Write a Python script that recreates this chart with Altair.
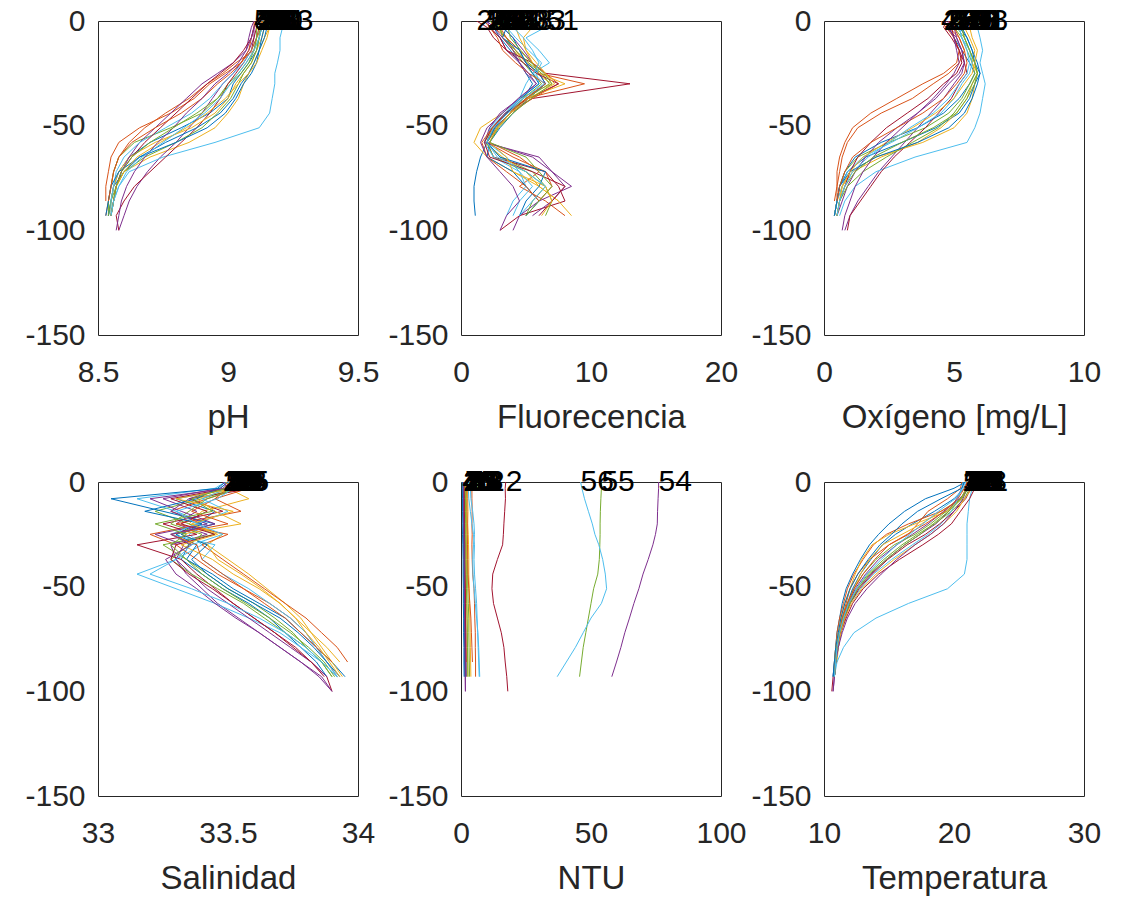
import altair as alt
import pandas as pd

# ---------------- data ----------------
DEPTH = [0, -3, -8, -14, -20, -25, -30, -37, -44, -51, -58, -65, -72, -79, -86, -93, -100]
IDS = [7, 12, 18, 23, 29, 33, 2, 40, 45, 51, 54, 55, 56, 4, 10, 15, 21, 26, 37, 48]
MATLAB = ["#0072BD", "#D95319", "#EDB120", "#7E2F8E", "#77AC30", "#4DBEEE", "#A2142F"]

PH = [
    [9.14, 9.13, 9.12, 9.11, 9.08, 9.05, 9.02, 9.00, 8.93, 8.82, 8.70, 8.62, 8.58, 8.56, 8.55, 8.54],
    [9.12, 9.13, 9.11, 9.10, 9.03, 8.98, 8.92, 8.85, 8.76, 8.68, 8.62, 8.58, 8.56, 8.55, 8.54, 8.53],
    [9.15, 9.16, 9.14, 9.12, 9.10, 9.08, 9.06, 9.04, 9.00, 8.95, 8.85, 8.70, 8.60, 8.57, 8.56],
    [9.11, 9.10, 9.10, 9.08, 9.05, 9.02, 8.98, 8.94, 8.90, 8.85, 8.80, 8.74, 8.69, 8.65, 8.62, 8.60, 8.58],
    [9.13, 9.12, 9.12, 9.10, 9.07, 9.04, 9.00, 8.96, 8.90, 8.78, 8.64, 8.58, 8.56, 8.55, 8.54, 8.54],
    [9.20, 9.21, 9.20, 9.20, 9.19, 9.18, 9.18, 9.17, 9.16, 9.12, 8.95, 8.75, 8.62, 8.58, 8.56, 8.55],
    [9.12, 9.11, 9.10, 9.09, 9.06, 9.03, 9.00, 8.97, 8.93, 8.88, 8.82, 8.76, 8.70, 8.64, 8.60, 8.57, 8.58],
    [9.16, 9.15, 9.14, 9.12, 9.10, 9.08, 9.05, 9.02, 8.97, 8.88, 8.76, 8.66, 8.60, 8.56, 8.55, 8.54],
    [9.10, 9.10, 9.09, 9.08, 9.05, 8.99, 8.93, 8.87, 8.78, 8.66, 8.58, 8.55, 8.54, 8.53, 8.53],
    [9.13, 9.14, 9.13, 9.11, 9.09, 9.06, 9.03, 9.00, 8.95, 8.86, 8.72, 8.62, 8.58, 8.56, 8.55, 8.55],
    [9.10, 9.09, 9.08, 9.07, 9.02, 8.96, 8.90, 8.84, 8.78, 8.72, 8.66, 8.62, 8.59, 8.57, 8.56, 8.55],
    [9.14, 9.13, 9.12, 9.11, 9.09, 9.06, 9.04, 9.01, 8.96, 8.90, 8.80, 8.68, 8.60, 8.57, 8.55, 8.54],
    [9.12, 9.12, 9.11, 9.09, 9.06, 9.02, 8.98, 8.93, 8.86, 8.76, 8.66, 8.60, 8.57, 8.56, 8.55, 8.55],
    [9.11, 9.10, 9.09, 9.06, 9.02, 8.97, 8.92, 8.86, 8.80, 8.74, 8.68, 8.63, 8.59, 8.57, 8.56, 8.55],
    [9.15, 9.14, 9.13, 9.12, 9.11, 9.09, 9.06, 9.03, 8.99, 8.92, 8.80, 8.66, 8.58, 8.55, 8.54, 8.53],
    [9.13, 9.12, 9.11, 9.09, 9.05, 9.01, 8.96, 8.90, 8.82, 8.72, 8.63, 8.58, 8.56, 8.55, 8.54],
    [9.17, 9.16, 9.15, 9.13, 9.11, 9.08, 9.04, 8.99, 8.92, 8.84, 8.74, 8.65, 8.60, 8.57, 8.56, 8.55],
    [9.11, 9.10, 9.09, 9.07, 9.04, 9.00, 8.95, 8.90, 8.84, 8.79, 8.73, 8.68, 8.64, 8.61, 8.59, 8.58, 8.57],
    [9.12, 9.11, 9.11, 9.10, 9.08, 9.05, 9.01, 8.96, 8.88, 8.79, 8.70, 8.63, 8.59, 8.57, 8.56, 8.55],
    [9.14, 9.13, 9.12, 9.10, 9.07, 9.04, 9.01, 8.97, 8.91, 8.83, 8.75, 8.67, 8.61, 8.58, 8.56, 8.55],
]

FLUO = [
    [2.0, 2.5, 3.0, 3.8, 4.5, 5.0, 5.5, 4.8, 3.5, 2.5, 2.0, 1.5, 1.2, 1.0, 1.0, 1.1],
    [3.0, 2.5, 3.5, 4.2, 5.0, 6.0, 9.5, 5.0, 3.8, 2.8, 2.2, 4.5, 6.0, 4.5, 6.5, 8.0],
    [2.5, 3.0, 3.2, 4.0, 5.2, 5.8, 7.0, 4.5, 3.2, 1.5, 1.0, 2.0, 4.0, 6.0, 7.5],
    [3.5, 3.2, 4.0, 4.8, 5.5, 6.0, 6.5, 5.0, 3.8, 2.6, 2.0, 5.5, 7.0, 8.5, 6.0, 4.5, 4.0],
    [2.2, 2.8, 3.5, 4.0, 4.8, 5.5, 6.2, 4.8, 3.6, 2.4, 2.0, 3.0, 5.5, 6.5, 5.5, 5.0],
    [5.5, 6.5, 5.0, 6.0, 6.8, 5.5, 5.0, 4.5, 3.2, 2.2, 2.0, 3.5, 4.5, 5.0, 4.0, 3.5],
    [1.2, 2.0, 2.5, 3.5, 5.5, 6.5, 13.0, 5.5, 3.5, 2.5, 2.0, 2.5, 6.5, 7.5, 8.0, 4.5, 3.0],
    [2.8, 3.2, 4.0, 4.5, 5.0, 6.0, 6.5, 5.2, 4.0, 3.0, 2.2, 2.0, 4.0, 5.0, 6.0, 5.0],
    [3.2, 3.0, 3.5, 4.5, 5.5, 6.5, 7.5, 5.5, 3.8, 2.8, 2.0, 4.0, 6.5, 7.0, 6.0],
    [6.5, 5.5, 4.8, 5.0, 5.5, 6.0, 8.0, 5.0, 3.6, 2.5, 1.8, 3.2, 5.0, 6.0, 7.5, 8.5],
    [2.0, 2.2, 3.0, 3.5, 4.5, 5.0, 5.8, 4.5, 3.0, 2.2, 1.8, 6.0, 7.0, 8.0, 7.0, 5.5],
    [2.5, 3.0, 3.2, 4.2, 5.2, 6.2, 6.8, 5.0, 3.8, 2.7, 2.0, 2.5, 5.0, 6.5, 7.0, 6.5],
    [3.0, 3.5, 4.2, 5.2, 6.2, 5.8, 6.0, 4.5, 3.4, 2.3, 1.8, 2.5, 4.5, 5.5, 4.5, 4.0],
    [2.5, 2.2, 3.0, 3.5, 4.8, 5.8, 7.5, 5.2, 3.4, 2.4, 1.8, 2.2, 5.5, 8.0, 7.0, 6.0],
    [4.0, 3.5, 3.2, 4.5, 5.0, 5.5, 6.0, 4.6, 3.5, 2.6, 2.0, 3.0, 6.5, 6.0, 5.0, 4.5],
    [1.8, 2.2, 2.8, 3.2, 4.2, 5.2, 6.5, 5.0, 3.6, 2.4, 1.6, 2.0, 3.5, 5.0, 6.0],
    [3.8, 4.2, 4.5, 5.0, 5.8, 6.5, 7.2, 5.2, 3.8, 2.8, 2.2, 3.5, 4.0, 6.5, 7.0, 6.2],
    [2.0, 2.5, 3.2, 4.0, 4.5, 5.2, 5.8, 4.4, 3.2, 2.0, 1.5, 2.0, 3.0, 4.0, 4.5, 3.5, 3.0],
    [3.2, 3.6, 3.8, 4.6, 5.4, 6.4, 7.0, 5.4, 4.0, 2.9, 2.2, 5.0, 6.0, 7.0, 6.0, 5.0],
    [4.5, 4.0, 4.8, 5.5, 6.0, 5.6, 6.4, 4.8, 3.6, 2.5, 2.0, 2.8, 5.0, 6.5, 5.5, 4.5],
]

OXY = [
    [5.0, 4.8, 5.0, 5.3, 5.6, 5.8, 5.6, 5.2, 4.6, 3.6, 2.2, 1.2, 0.8, 0.6, 0.5, 0.4],
    [4.6, 4.8, 5.2, 5.4, 5.2, 4.8, 4.2, 3.4, 2.2, 1.3, 0.9, 0.7, 0.6, 0.5, 0.5, 0.4],
    [5.5, 5.3, 5.4, 5.6, 5.8, 5.9, 5.8, 5.7, 5.5, 5.0, 3.8, 2.0, 1.0, 0.7, 0.6],
    [4.9, 5.0, 5.1, 5.3, 5.4, 5.3, 5.0, 4.6, 4.1, 3.6, 3.1, 2.6, 2.1, 1.7, 1.3, 1.0, 0.8],
    [5.2, 5.0, 5.3, 5.5, 5.7, 5.8, 5.6, 5.3, 4.8, 3.9, 2.5, 1.3, 0.8, 0.6, 0.5, 0.4],
    [5.8, 5.9, 6.0, 6.1, 6.0, 6.1, 6.2, 6.1, 6.0, 5.8, 5.5, 3.5, 2.0, 1.2, 0.8, 0.6],
    [4.7, 4.6, 4.9, 5.2, 5.4, 5.5, 5.2, 4.9, 4.4, 3.9, 3.3, 2.7, 2.2, 1.8, 1.4, 1.0, 0.9],
    [5.4, 5.2, 5.5, 5.7, 5.9, 6.0, 5.8, 5.6, 5.2, 4.3, 3.0, 1.6, 0.9, 0.6, 0.5, 0.4],
    [4.5, 4.7, 5.0, 5.2, 5.1, 4.6, 3.8, 2.8, 1.8, 1.1, 0.8, 0.6, 0.5, 0.5, 0.4],
    [5.6, 5.4, 5.6, 5.8, 5.7, 5.9, 5.7, 5.5, 5.1, 4.5, 3.6, 2.2, 1.1, 0.7, 0.5, 0.4],
    [4.8, 4.7, 5.1, 5.3, 5.4, 5.2, 4.8, 4.3, 3.6, 2.8, 2.1, 1.6, 1.2, 0.9, 0.7, 0.5],
    [5.3, 5.1, 5.4, 5.6, 5.8, 5.9, 5.7, 5.4, 5.0, 4.4, 3.4, 2.4, 1.5, 0.9, 0.6, 0.5],
    [5.0, 5.2, 5.3, 5.6, 5.7, 5.6, 5.3, 5.0, 4.5, 3.6, 2.6, 1.5, 0.9, 0.7, 0.5, 0.4],
    [4.8, 4.9, 5.0, 5.2, 5.3, 5.1, 4.6, 4.0, 3.2, 2.4, 1.8, 1.3, 1.0, 0.8, 0.6, 0.5],
    [5.5, 5.3, 5.5, 5.7, 5.8, 6.0, 5.9, 5.7, 5.4, 4.8, 3.6, 2.0, 1.0, 0.6, 0.5, 0.4],
    [5.1, 5.0, 5.2, 5.4, 5.5, 5.4, 5.1, 4.6, 3.8, 2.8, 1.8, 1.1, 0.8, 0.6, 0.5],
    [5.7, 5.6, 5.7, 5.9, 5.8, 5.7, 5.4, 5.0, 4.3, 3.4, 2.4, 1.5, 1.0, 0.7, 0.6, 0.5],
    [4.6, 4.8, 5.0, 5.1, 5.2, 5.0, 4.7, 4.2, 3.6, 3.0, 2.4, 1.9, 1.5, 1.2, 1.0, 0.8, 0.7],
    [5.2, 5.3, 5.4, 5.6, 5.8, 5.9, 5.8, 5.5, 5.1, 4.2, 3.0, 1.9, 1.2, 0.8, 0.6, 0.5],
    [5.4, 5.2, 5.3, 5.5, 5.6, 5.5, 5.2, 4.8, 4.2, 3.3, 2.5, 1.7, 1.1, 0.8, 0.6, 0.5],
]

SAL = [
    [33.50, 33.52, 33.30, 33.45, 33.38, 33.30, 33.35, 33.32, 33.40, 33.48, 33.58, 33.66, 33.72, 33.78, 33.84, 33.88],
    [33.48, 33.55, 33.42, 33.28, 33.40, 33.20, 33.30, 33.38, 33.46, 33.56, 33.66, 33.74, 33.80, 33.84, 33.88, 33.92],
    [33.52, 33.50, 33.58, 33.40, 33.35, 33.48, 33.42, 33.50, 33.58, 33.65, 33.72, 33.78, 33.82, 33.88, 33.93],
    [33.50, 33.47, 33.25, 33.38, 33.30, 33.42, 33.28, 33.30, 33.34, 33.40, 33.46, 33.54, 33.62, 33.70, 33.78, 33.86, 33.90],
    [33.51, 33.53, 33.40, 33.22, 33.35, 33.45, 33.25, 33.34, 33.42, 33.50, 33.60, 33.68, 33.75, 33.80, 33.86, 33.90],
    [33.49, 33.45, 33.15, 33.30, 33.42, 33.35, 33.40, 33.30, 33.15, 33.30, 33.45, 33.58, 33.70, 33.78, 33.86, 33.92],
    [33.52, 33.60, 33.35, 33.48, 33.25, 33.38, 33.15, 33.32, 33.38, 33.45, 33.52, 33.60, 33.68, 33.75, 33.82, 33.88, 33.90],
    [33.50, 33.47, 33.05, 33.25, 33.45, 33.30, 33.38, 33.34, 33.44, 33.52, 33.62, 33.72, 33.78, 33.84, 33.90, 33.95],
    [33.53, 33.50, 33.45, 33.55, 33.30, 33.50, 33.40, 33.48, 33.56, 33.64, 33.72, 33.80, 33.86, 33.92, 33.96],
    [33.49, 33.52, 33.38, 33.45, 33.55, 33.32, 33.42, 33.46, 33.55, 33.63, 33.70, 33.76, 33.82, 33.86, 33.90, 33.94],
    [33.51, 33.48, 33.35, 33.28, 33.42, 33.22, 33.33, 33.30, 33.36, 33.42, 33.50, 33.58, 33.66, 33.74, 33.82, 33.88],
    [33.50, 33.54, 33.42, 33.35, 33.28, 33.40, 33.35, 33.28, 33.36, 33.46, 33.56, 33.64, 33.72, 33.80, 33.86, 33.90],
    [33.52, 33.50, 33.40, 33.50, 33.38, 33.28, 33.45, 33.40, 33.48, 33.58, 33.66, 33.74, 33.80, 33.84, 33.88, 33.92],
    [33.51, 33.50, 33.28, 33.42, 33.32, 33.45, 33.30, 33.28, 33.35, 33.44, 33.52, 33.60, 33.68, 33.76, 33.82, 33.87],
    [33.49, 33.46, 33.38, 33.18, 33.40, 33.32, 33.42, 33.36, 33.42, 33.50, 33.60, 33.70, 33.77, 33.83, 33.88, 33.93],
    [33.52, 33.58, 33.45, 33.36, 33.50, 33.28, 33.38, 33.40, 33.48, 33.56, 33.64, 33.72, 33.78, 33.84, 33.90],
    [33.50, 33.53, 33.30, 33.52, 33.36, 33.46, 33.32, 33.44, 33.52, 33.62, 33.70, 33.76, 33.80, 33.85, 33.89, 33.93],
    [33.48, 33.50, 33.20, 33.32, 33.45, 33.28, 33.36, 33.26, 33.30, 33.38, 33.45, 33.53, 33.62, 33.70, 33.78, 33.85, 33.90],
    [33.51, 33.49, 33.36, 33.44, 33.22, 33.34, 33.28, 33.34, 33.40, 33.48, 33.57, 33.66, 33.74, 33.81, 33.87, 33.91],
    [33.50, 33.52, 33.46, 33.30, 33.38, 33.48, 33.36, 33.30, 33.20, 33.36, 33.50, 33.62, 33.72, 33.80, 33.86, 33.92],
]

NTU = [
    [1.5, 1.5, 1.6, 1.5, 1.4, 1.5, 1.6, 1.5, 1.4, 1.5, 1.6, 1.7, 1.8, 1.8, 1.9, 2.0],
    [4.0, 4.2, 4.2, 4.3, 4.2, 4.3, 4.2, 4.3, 4.5, 5.0, 5.2, 5.3, 5.5, 5.5, 5.6, 5.6],
    [0.8, 0.8, 0.9, 0.9, 1.0, 0.9, 1.0, 1.0, 1.1, 1.2, 1.2, 1.3, 1.3, 1.4, 1.5],
    [1.0, 1.1, 1.0, 1.2, 1.1, 1.2, 1.2, 1.3, 1.3, 1.4, 1.4, 1.5, 1.5, 1.6, 1.6, 1.7, 1.7],
    [2.0, 2.1, 2.0, 2.2, 2.1, 2.3, 2.2, 2.4, 2.5, 2.6, 2.8, 3.0, 3.0, 3.1, 3.2, 3.3],
    [3.5, 3.6, 3.8, 4.5, 5.0, 5.2, 4.8, 4.5, 4.6, 5.0, 5.5, 6.0, 6.5, 6.8, 7.0, 7.2],
    [17.2, 17.0, 17.1, 16.8, 16.5, 16.3, 16.0, 14.0, 12.2, 11.9, 12.5, 14.0, 15.5, 16.5, 17.0, 17.6, 18.0],
    [0.5, 0.5, 0.6, 0.6, 0.7, 0.6, 0.7, 0.8, 0.8, 0.9, 0.9, 1.0, 1.0, 1.1, 1.1, 1.2],
    [1.2, 1.3, 1.2, 1.4, 1.3, 1.4, 1.5, 1.5, 1.6, 1.7, 1.8, 1.8, 1.9, 2.0, 2.0],
    [2.5, 2.5, 2.6, 2.7, 2.6, 2.8, 2.9, 3.0, 3.0, 3.2, 3.3, 3.4, 3.5, 3.6, 3.7, 3.8],
    [76.0, 76.0, 75.8, 75.6, 75.5, 74.8, 73.8, 72.0, 70.0, 68.4, 66.5, 64.8, 63.0, 61.5, 59.8, 58.0],
    [54.0, 54.0, 53.8, 53.6, 53.5, 53.5, 53.4, 53.2, 52.6, 51.0, 50.0, 49.0, 48.0, 47.0, 46.3, 45.6],
    [46.0, 46.5, 47.5, 49.0, 50.5, 51.5, 53.0, 54.5, 55.5, 56.0, 54.0, 50.0, 47.0, 44.0, 40.5, 37.0],
    [1.2, 1.2, 1.3, 1.3, 1.4, 1.4, 1.5, 1.5, 1.6, 1.6, 1.7, 1.7, 1.8, 1.8, 1.9, 1.9],
    [0.7, 0.8, 0.8, 0.9, 0.9, 1.0, 1.0, 1.1, 1.1, 1.2, 1.2, 1.3, 1.3, 1.4, 1.4, 1.5],
    [2.2, 2.2, 2.3, 2.3, 2.4, 2.4, 2.5, 2.6, 2.7, 3.0, 3.4, 3.8, 4.0, 4.2, 4.4],
    [1.8, 1.8, 1.9, 1.9, 2.0, 2.0, 2.1, 2.1, 2.2, 2.2, 2.3, 2.4, 2.5, 2.5, 2.6, 2.6],
    [0.9, 0.9, 1.0, 1.0, 1.1, 1.1, 1.2, 1.2, 1.3, 1.3, 1.4, 1.4, 1.5, 1.5, 1.6, 1.6, 1.7],
    [1.6, 1.6, 1.7, 1.7, 1.8, 1.8, 1.9, 1.9, 2.0, 2.1, 2.2, 2.3, 2.4, 2.5, 2.6, 2.7],
    [2.8, 2.8, 3.0, 3.6, 4.2, 4.8, 5.2, 5.0, 5.2, 5.6, 6.0, 6.2, 6.4, 6.6, 6.8, 7.0],
]

TEMP = [
    [21.0, 20.8, 20.0, 18.5, 16.8, 15.5, 14.5, 13.6, 12.8, 12.2, 11.8, 11.5, 11.2, 11.0, 10.9, 10.8],
    [20.6, 20.5, 19.5, 18.0, 17.2, 16.5, 15.0, 13.5, 12.6, 12.0, 11.7, 11.4, 11.2, 11.0, 10.9, 10.8],
    [21.2, 21.0, 20.5, 19.0, 17.5, 16.0, 14.5, 13.5, 12.8, 12.3, 11.9, 11.6, 11.3, 11.1, 11.0],
    [20.8, 20.6, 20.2, 19.6, 18.6, 17.4, 16.2, 14.8, 13.6, 12.6, 12.0, 11.6, 11.3, 11.1, 10.9, 10.8, 10.7],
    [21.3, 21.2, 20.8, 19.8, 18.5, 17.2, 16.0, 14.6, 13.4, 12.5, 11.9, 11.5, 11.2, 11.0, 10.9, 10.8],
    [21.5, 21.4, 21.2, 21.1, 21.0, 21.0, 21.0, 21.0, 20.8, 19.5, 16.5, 14.0, 12.3, 11.5, 11.0, 10.8],
    [21.8, 21.6, 21.2, 20.5, 19.8, 18.8, 17.6, 15.8, 14.2, 13.0, 12.2, 11.7, 11.3, 11.0, 10.8, 10.7, 10.6],
    [20.9, 20.0, 17.8, 16.2, 15.0, 14.2, 13.5, 12.8, 12.2, 11.7, 11.4, 11.2, 11.0, 10.9, 10.8, 10.7],
    [21.1, 20.9, 20.6, 19.0, 16.5, 14.8, 13.8, 13.0, 12.3, 11.8, 11.5, 11.2, 11.0, 10.9, 10.8],
    [21.0, 20.9, 20.6, 19.5, 17.0, 15.0, 13.7, 12.9, 12.4, 12.0, 11.6, 11.3, 11.1, 10.9, 10.8, 10.8],
    [21.4, 21.2, 20.4, 19.2, 18.0, 16.8, 15.6, 14.2, 13.2, 12.4, 11.9, 11.5, 11.2, 11.0, 10.9, 10.8],
    [21.2, 21.0, 20.5, 19.4, 18.2, 17.0, 15.4, 14.0, 13.0, 12.3, 11.8, 11.4, 11.2, 11.0, 10.9, 10.8],
    [20.7, 20.6, 20.3, 19.8, 19.0, 18.0, 16.8, 15.2, 13.8, 12.8, 12.0, 11.6, 11.3, 11.1, 10.9, 10.8],
    [21.5, 21.3, 20.9, 20.0, 18.9, 17.8, 16.4, 14.9, 13.7, 12.7, 12.0, 11.6, 11.3, 11.0, 10.9, 10.8],
    [20.8, 20.6, 19.0, 17.2, 16.0, 15.2, 14.3, 13.4, 12.6, 12.0, 11.6, 11.3, 11.1, 10.9, 10.8, 10.7],
    [21.0, 20.8, 20.3, 19.3, 17.8, 16.4, 15.0, 13.9, 13.0, 12.3, 11.8, 11.4, 11.2, 11.0, 10.9],
    [21.6, 21.4, 20.8, 20.2, 19.2, 18.2, 17.0, 15.4, 14.0, 12.9, 12.1, 11.6, 11.3, 11.1, 10.9, 10.8],
    [21.1, 21.0, 20.7, 20.0, 19.2, 18.2, 17.0, 15.6, 14.4, 13.3, 12.4, 11.8, 11.4, 11.1, 10.9, 10.8, 10.7],
    [21.2, 21.1, 20.6, 19.6, 18.4, 17.4, 16.2, 14.8, 13.5, 12.6, 12.0, 11.5, 11.2, 11.0, 10.9, 10.8],
    [20.9, 20.7, 20.1, 18.8, 17.6, 16.6, 15.6, 14.4, 13.3, 12.5, 11.9, 11.5, 11.2, 11.0, 10.9, 10.8],
]

PANELS = [
    ("pH", PH, [8.5, 9.5], [8.5, 9, 9.5]),
    ("Fluorecencia", FLUO, [0, 20], [0, 10, 20]),
    ("Oxígeno [mg/L]", OXY, [0, 10], [0, 5, 10]),
    ("Salinidad", SAL, [33, 34], [33, 33.5, 34]),
    ("NTU", NTU, [0, 100], [0, 50, 100]),
    ("Temperatura", TEMP, [10, 30], [10, 20, 30]),
]

FONT = "Liberation Sans"
TXT = "#262626"
NAMES = [f"s{i:02d}" for i in range(len(IDS))]
COLORS = [MATLAB[i % len(MATLAB)] for i in range(len(IDS))]


def panel(title, vals, domain, ticks):
    rows, labels = [], []
    for s, prof in enumerate(vals):
        for k, v in enumerate(prof):
            rows.append({"station": NAMES[s], "k": k, "depth": DEPTH[k], "value": v})
        labels.append({"station": NAMES[s], "value": prof[0], "depth": DEPTH[0], "label": str(IDS[s])})
    xs = alt.Scale(domain=domain, nice=False, zero=False)
    ys = alt.Scale(domain=[-150, 0], nice=False, zero=False)
    xax = alt.Axis(values=ticks, labelExpr="'' + datum.value", title=title, labelPadding=22,
                   titlePadding=14, labelFlush=False)
    yax = alt.Axis(values=[-150, -100, -50, 0], labelExpr="'' + datum.value", title=None,
                   labelPadding=13, labelFlush=False)
    lines = alt.Chart(pd.DataFrame(rows)).mark_line(strokeWidth=1, clip=True).encode(
        x=alt.X("value:Q", scale=xs, axis=xax),
        y=alt.Y("depth:Q", scale=ys, axis=yax),
        color=alt.Color("station:N", scale=alt.Scale(domain=NAMES, range=COLORS), legend=None),
        order=alt.Order("k:Q"),
    )
    text = alt.Chart(pd.DataFrame(labels)).mark_text(
        align="left", baseline="middle", fontSize=30, font=FONT, color="#000000"
    ).encode(
        x=alt.X("value:Q", scale=xs),
        y=alt.Y("depth:Q", scale=ys),
        text="label:N",
    )
    return alt.layer(lines, text).properties(width=260, height=314)


charts = [panel(*p) for p in PANELS]

chart = alt.concat(
    *charts, columns=3, spacing={"row": 147, "column": 103}, bounds="flush"
).properties(
    padding={"left": 24, "top": 5, "right": 5, "bottom": 5}
).configure_view(
    stroke=TXT, strokeWidth=1
).configure_axis(
    domain=False, ticks=False, grid=False,
    labelFont=FONT, labelFontSize=30, labelColor=TXT,
    titleFont=FONT, titleFontSize=33, titleFontWeight="normal", titleColor=TXT,
)

chart.save("out.html", embed_options={"renderer": "svg", "actions": False})
